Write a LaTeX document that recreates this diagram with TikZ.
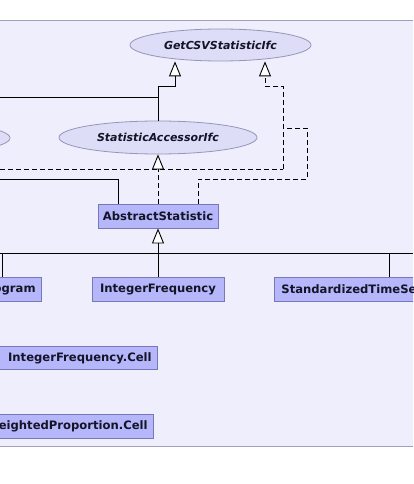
\documentclass[tikz,border=0pt]{standalone}
\usepackage{fontspec}
\setmainfont{DejaVu Sans}
\usetikzlibrary{shapes.geometric,arrows.meta}
\definecolor{panelfill}{RGB}{238,238,252}
\definecolor{panelline}{RGB}{160,160,184}
\definecolor{ellfill}{RGB}{221,221,248}
\definecolor{ellline}{RGB}{150,150,185}
\definecolor{boxfill}{RGB}{182,182,250}
\definecolor{boxline}{RGB}{120,120,184}
\definecolor{txt}{RGB}{20,20,40}
\tikzset{
  iface/.style={ellipse, draw=ellline, fill=ellfill, inner sep=0pt, line width=0.8pt,
    font=\fontsize{11}{13}\selectfont\bfseries\itshape, text=txt},
  cls/.style={rectangle, draw=boxline, fill=boxfill, inner sep=0pt, line width=0.8pt,
    minimum height=24pt, font=\fontsize{11.6}{13}\selectfont\bfseries, text=txt},
  gen/.style={line width=0.9pt, -{Triangle[fill=white,length=15pt,width=12pt]}},
  real/.style={gen, dash pattern=on 5pt off 3pt},
  plain/.style={line width=0.9pt},
  dplain/.style={line width=0.9pt, dash pattern=on 5pt off 3pt},
}
\begin{document}
\begin{tikzpicture}[x=1pt,y=-1pt]
\useasboundingbox (0,0) rectangle (413,484);
\clip (0,0) rectangle (413,484);
\fill[panelfill] (0,20) rectangle (413,446);
\draw[panelline, line width=0.9pt] (0,20) -- (413,20);
\draw[panelline, line width=0.9pt] (0,446) -- (413,446);

% interfaces
\node[iface, minimum width=181pt, minimum height=32pt] (getcsv) at (220.5,45) {GetCSVStatisticIfc};
\node[iface, minimum width=198pt, minimum height=33pt] (accessor) at (158,137.5) {StatisticAccessorIfc};
\node[iface, minimum width=198pt, minimum height=33pt] (leftell) at (-89,138) {};

% classes
\node[cls, minimum width=120pt] (abstract) at (158,216) {AbstractStatistic};
\node[cls, anchor=east, inner xsep=6pt] (histo) at (42,289.5) {Histogram};
\node[cls, minimum width=132pt] (intfreq) at (158,289.5) {IntegerFrequency};
\node[cls, anchor=west, inner xsep=7pt] (stdts) at (274,289.5) {StandardizedTimeSeriesStatistic};
\node[cls, anchor=east, minimum height=23pt, inner xsep=6pt] (cell) at (158,358) {\makebox[152pt][r]{IntegerFrequency.Cell}};
\node[cls, anchor=east, inner xsep=6pt] (wcell) at (154,426) {WeightedProportion.Cell};

% coordinates for bends
\coordinate (j1) at (158,86);
\coordinate (j1b) at (175,86);
\coordinate (lft1) at (0,97);
\coordinate (m1) at (158,97);
\coordinate (d1) at (265,86);
\coordinate (d2) at (283,86);
\coordinate (d3) at (283,169);
\coordinate (lft2) at (0,169);
\coordinate (d4) at (283,128);
\coordinate (d5) at (307,128);
\coordinate (d6) at (307,179);
\coordinate (d7) at (198,179);
\coordinate (lft3) at (0,179);
\coordinate (s1) at (118,179);
\coordinate (bus) at (158,253);
\coordinate (busL) at (0,253);
\coordinate (busR) at (413,253);
\coordinate (b1) at (2,253);
\coordinate (b3) at (389,253);

% generalization: StatisticAccessorIfc -> GetCSVStatisticIfc
\draw[plain] (accessor.north) -- (j1);
\draw[plain] (lft1) -- (m1);
\draw[gen] (j1) -- (j1b) -- (getcsv.south -| j1b);

% realization lines to GetCSVStatisticIfc
\draw[dplain] (lft2) -- (d3);
\draw[real] (d3) -- (d2) -- (d1) -- (getcsv.south -| d1);
\draw[dplain] (abstract.north -| d7) -- (d7) -- (d6) -- (d5) -- (d4);

% realization AbstractStatistic -> StatisticAccessorIfc
\draw[real] (abstract.north) -- (accessor.south);

% solid line from left to AbstractStatistic
\draw[plain] (lft3) -- (s1) -- (abstract.north -| s1);

% children -> AbstractStatistic
\draw[gen] (bus) -- (abstract.south);
\draw[plain] (busL) -- (busR);
\draw[plain] (b1) -- (histo.north -| b1);
\draw[plain] (bus) -- (intfreq.north);
\draw[plain] (b3) -- (stdts.north -| b3);
\end{tikzpicture}
\end{document}
